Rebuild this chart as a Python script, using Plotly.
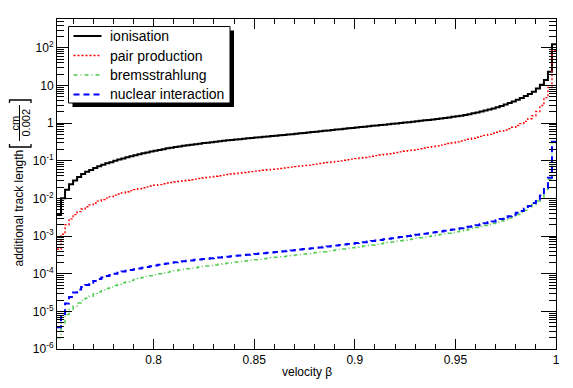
import numpy as np
import plotly.graph_objects as go

# histogram binning: velocity beta, bins of 0.002 starting at 0.752
bin_start = 0.752
bin_width = 0.002

ionisation = [
    0.00363, 0.0102, 0.0170, 0.0240, 0.0302, 0.0372, 0.0447, 0.0513, 0.0575, 0.0646,
    0.0724, 0.0794, 0.0861, 0.0923, 0.100, 0.108, 0.116, 0.125, 0.132, 0.141,
    0.149, 0.159, 0.168, 0.177, 0.186, 0.195, 0.205, 0.215, 0.224, 0.233,
    0.242, 0.251, 0.260, 0.269, 0.278, 0.287, 0.296, 0.305, 0.314, 0.323,
    0.332, 0.341, 0.351, 0.360, 0.369, 0.378, 0.388, 0.398, 0.407, 0.417,
    0.427, 0.437, 0.447, 0.457, 0.468, 0.479, 0.490, 0.501, 0.513, 0.526,
    0.540, 0.553, 0.568, 0.582, 0.597, 0.612, 0.628, 0.644, 0.661, 0.678,
    0.695, 0.713, 0.731, 0.750, 0.769, 0.789, 0.809, 0.830, 0.851, 0.873,
    0.895, 0.918, 0.942, 0.966, 0.991, 1.016, 1.042, 1.069, 1.096, 1.127,
    1.159, 1.191, 1.225, 1.259, 1.297, 1.337, 1.380, 1.426, 1.476, 1.531,
    1.592, 1.660, 1.738, 1.828, 1.928, 2.042, 2.168, 2.312, 2.477, 2.667,
    2.884, 3.141, 3.443, 3.802, 4.217, 4.699, 5.272, 5.957, 6.839, 8.414,
    10.47, 14.13, 23.44, 125.9,
]

pair_production = [
    0.000447, 0.00112, 0.00200, 0.00288, 0.00372, 0.00447, 0.00525, 0.00603, 0.00676, 0.00759,
    0.00851, 0.00933, 0.0102, 0.0112, 0.0123, 0.0132, 0.0141, 0.0151, 0.0162, 0.0172,
    0.0182, 0.0193, 0.0204, 0.0214, 0.0224, 0.0234, 0.0246, 0.0257, 0.0266, 0.0275,
    0.0285, 0.0295, 0.0306, 0.0316, 0.0327, 0.0339, 0.0351, 0.0363, 0.0376, 0.0389,
    0.0403, 0.0417, 0.0432, 0.0447, 0.0461, 0.0475, 0.0490, 0.0504, 0.0518, 0.0532,
    0.0547, 0.0562, 0.0578, 0.0594, 0.0611, 0.0628, 0.0646, 0.0664, 0.0682, 0.0703,
    0.0724, 0.0746, 0.0769, 0.0794, 0.0820, 0.0847, 0.0875, 0.0904, 0.0933, 0.0966,
    0.100, 0.1035, 0.1072, 0.1109, 0.1148, 0.1189, 0.1230, 0.1276, 0.1324, 0.1374,
    0.1426, 0.1479, 0.1538, 0.1600, 0.1663, 0.1730, 0.1799, 0.1871, 0.1945, 0.2023,
    0.2104, 0.2193, 0.2286, 0.2388, 0.2495, 0.2612, 0.2742, 0.2884, 0.3034, 0.3192,
    0.3365, 0.3548, 0.3750, 0.3981, 0.4227, 0.4487, 0.4764, 0.5058, 0.5395, 0.5754,
    0.6166, 0.6637, 0.7161, 0.7852, 0.8710, 0.9772, 1.122, 1.318, 1.585, 2.042,
    2.951, 4.786, 8.913, 85.1,
]

bremsstrahlung = [
    2.00e-6, 5.01e-6, 8.32e-6, 1.12e-5, 1.38e-5, 1.66e-5, 1.95e-5, 2.24e-5, 2.51e-5, 2.88e-5,
    3.31e-5, 3.72e-5, 4.07e-5, 4.47e-5, 4.90e-5, 5.25e-5, 5.75e-5, 6.17e-5, 6.61e-5, 7.08e-5,
    7.59e-5, 7.94e-5, 8.51e-5, 8.91e-5, 9.55e-5, 1.00e-4, 1.05e-4, 1.10e-4, 1.15e-4, 1.20e-4,
    1.26e-4, 1.30e-4, 1.35e-4, 1.40e-4, 1.45e-4, 1.50e-4, 1.55e-4, 1.60e-4, 1.66e-4, 1.72e-4,
    1.78e-4, 1.84e-4, 1.91e-4, 1.97e-4, 2.04e-4, 2.10e-4, 2.17e-4, 2.23e-4, 2.30e-4, 2.37e-4,
    2.44e-4, 2.51e-4, 2.58e-4, 2.65e-4, 2.73e-4, 2.81e-4, 2.88e-4, 2.96e-4, 3.05e-4, 3.14e-4,
    3.24e-4, 3.33e-4, 3.44e-4, 3.54e-4, 3.65e-4, 3.76e-4, 3.87e-4, 4.00e-4, 4.13e-4, 4.27e-4,
    4.42e-4, 4.57e-4, 4.73e-4, 4.90e-4, 5.07e-4, 5.25e-4, 5.43e-4, 5.62e-4, 5.83e-4, 6.05e-4,
    6.28e-4, 6.52e-4, 6.76e-4, 7.01e-4, 7.28e-4, 7.55e-4, 7.83e-4, 8.13e-4, 8.43e-4, 8.75e-4,
    9.08e-4, 9.42e-4, 9.77e-4, 1.02e-3, 1.06e-3, 1.10e-3, 1.14e-3, 1.19e-3, 1.25e-3, 1.30e-3,
    1.37e-3, 1.44e-3, 1.51e-3, 1.60e-3, 1.69e-3, 1.79e-3, 1.91e-3, 2.03e-3, 2.18e-3, 2.34e-3,
    2.54e-3, 2.75e-3, 3.02e-3, 3.35e-3, 3.76e-3, 4.27e-3, 4.90e-3, 5.75e-3, 6.92e-3, 8.51e-3,
    1.10e-2, 1.74e-2, 3.24e-2, 0.302,
]

nuclear_interaction = [
    3.80e-6, 8.51e-6, 1.62e-5, 2.40e-5, 3.16e-5, 3.80e-5, 4.47e-5, 5.01e-5, 5.75e-5, 6.46e-5,
    7.24e-5, 7.94e-5, 8.71e-5, 9.33e-5, 1.00e-4, 1.07e-4, 1.15e-4, 1.20e-4, 1.26e-4, 1.32e-4,
    1.38e-4, 1.45e-4, 1.51e-4, 1.58e-4, 1.66e-4, 1.74e-4, 1.82e-4, 1.88e-4, 1.95e-4, 2.02e-4,
    2.09e-4, 2.14e-4, 2.21e-4, 2.26e-4, 2.34e-4, 2.40e-4, 2.45e-4, 2.51e-4, 2.57e-4, 2.66e-4,
    2.72e-4, 2.79e-4, 2.85e-4, 2.92e-4, 2.99e-4, 3.05e-4, 3.13e-4, 3.20e-4, 3.27e-4, 3.35e-4,
    3.43e-4, 3.51e-4, 3.59e-4, 3.67e-4, 3.76e-4, 3.85e-4, 3.94e-4, 4.07e-4, 4.17e-4, 4.27e-4,
    4.42e-4, 4.52e-4, 4.62e-4, 4.79e-4, 4.90e-4, 5.01e-4, 5.19e-4, 5.31e-4, 5.50e-4, 5.62e-4,
    5.82e-4, 5.96e-4, 6.17e-4, 6.31e-4, 6.53e-4, 6.76e-4, 6.92e-4, 7.16e-4, 7.41e-4, 7.67e-4,
    7.94e-4, 8.22e-4, 8.51e-4, 8.81e-4, 9.12e-4, 9.44e-4, 9.77e-4, 1.01e-3, 1.05e-3, 1.08e-3,
    1.12e-3, 1.16e-3, 1.20e-3, 1.24e-3, 1.29e-3, 1.33e-3, 1.38e-3, 1.45e-3, 1.50e-3, 1.55e-3,
    1.62e-3, 1.70e-3, 1.78e-3, 1.86e-3, 1.95e-3, 2.07e-3, 2.19e-3, 2.32e-3, 2.45e-3, 2.63e-3,
    2.85e-3, 3.09e-3, 3.39e-3, 3.72e-3, 4.17e-3, 4.68e-3, 5.37e-3, 6.31e-3, 7.59e-3, 9.33e-3,
    1.20e-2, 1.91e-2, 3.55e-2, 0.324,
]

x_ticks = [0.8, 0.85, 0.9, 0.95, 1.0]
x_ticktext = ["0.8", "0.85", "0.9", "0.95", "1"]
y_ticks = [1e-6, 1e-5, 1e-4, 1e-3, 1e-2, 1e-1, 1, 10, 100]
y_ticktext = ["10<sup>-6</sup>", "10<sup>-5</sup>", "10<sup>-4</sup>", "10<sup>-3</sup>",
              "10<sup>-2</sup>", "10<sup>-1</sup>", "1", "10", "10<sup>2</sup>"]

series = [
    ("ionisation", ionisation, "black", "solid", 2),
    ("pair production", pair_production, "rgb(255,0,0)", "2px,2px", 1.4),
    ("bremsstrahlung", bremsstrahlung, "rgb(80,205,80)", "4px,3px,1px,3px", 1.5),
    ("nuclear interaction", nuclear_interaction, "rgb(0,0,255)", "6px,4px", 2),
]

nbins = len(ionisation)
edges = bin_start + bin_width * np.arange(nbins + 1)
x_lo, x_hi = edges[0], edges[-1]

FONT = "Liberation Sans, Arial, Helvetica, sans-serif"
# the page body adds an 8px margin, so the figure is sized to fit the 573x388 window
OFF = 8
W, H = 573 - 2 * OFF, 388 - 2 * OFF
PL, PR, PT, PB = 57, 556, 19, 349          # plot frame in window pixels
ML, MT = PL - OFF, PT - OFF
MR, MB = (OFF + W) - PR, (OFF + H) - PB
PW, PH = PR - PL, PB - PT


def px(x):  # window pixel -> paper x
    return (x - PL) / PW


def py(y):  # window pixel -> paper y
    return (PB - y) / PH


fig = go.Figure()
for name, vals, color, dash, width in series:
    fig.add_trace(go.Scatter(
        x=edges, y=list(vals) + [vals[-1]],
        mode="lines", line=dict(shape="hv", color=color, dash=dash, width=width),
        name=name, showlegend=False, hoverinfo="skip",
    ))

shapes = []
annotations = []

# legend box (ROOT style, with shadow)
lx0, ly0, lx1, ly1 = 68.5, 26.5, 230, 103
shapes.append(dict(type="rect", xref="paper", yref="paper",
                   x0=px(lx0 + 4), x1=px(lx1 + 4), y0=py(ly0 + 4), y1=py(ly1 + 4),
                   fillcolor="black", line=dict(width=0), layer="above"))
shapes.append(dict(type="rect", xref="paper", yref="paper",
                   x0=px(lx0), x1=px(lx1), y0=py(ly0), y1=py(ly1),
                   fillcolor="white", line=dict(color="black", width=1), layer="above"))
rows = [36, 55.5, 75, 94.5]
for (name, vals, color, dash, width), ry in zip(series, rows):
    shapes.append(dict(type="line", xref="paper", yref="paper",
                       x0=px(73.5), x1=px(101.5), y0=py(ry), y1=py(ry),
                       line=dict(color=color, dash=dash, width=width), layer="above"))
    annotations.append(dict(text=name, xref="paper", yref="paper", x=px(108), y=py(ry),
                            xanchor="left", yanchor="middle", showarrow=False,
                            font=dict(family=FONT, size=14, color="black")))

# x axis title
annotations.append(dict(text="velocity β", xref="paper", yref="paper", x=0.5, y=py(372),
                        xanchor="center", yanchor="middle", showarrow=False,
                        font=dict(family=FONT, size=12, color="black")))
# y axis title with bracketed fraction
annotations.append(dict(text="additional track length", xref="paper", yref="paper",
                        x=px(18.5), y=py(208), textangle=-90, xanchor="center", yanchor="middle",
                        showarrow=False, font=dict(family=FONT, size=12, color="black")))
annotations.append(dict(text="cm", xref="paper", yref="paper", x=px(14.5), y=py(123),
                        textangle=-90, xanchor="center", yanchor="middle", showarrow=False,
                        font=dict(family=FONT, size=11, color="black")))
annotations.append(dict(text="0.002", xref="paper", yref="paper", x=px(25.5), y=py(123),
                        textangle=-90, xanchor="center", yanchor="middle", showarrow=False,
                        font=dict(family=FONT, size=11, color="black")))
shapes.append(dict(type="line", xref="paper", yref="paper", x0=px(19.5), x1=px(19.5),
                   y0=py(141), y1=py(105), line=dict(color="black", width=1)))
# brackets (rotated)
bl, br = 9.5, 31
shapes.append(dict(type="path", xref="paper", yref="paper",
                   path=f"M {px(bl)},{py(144)} L {px(bl)},{py(147)} L {px(br)},{py(147)} L {px(br)},{py(144)}",
                   line=dict(color="black", width=1.3)))
shapes.append(dict(type="path", xref="paper", yref="paper",
                   path=f"M {px(bl)},{py(103)} L {px(bl)},{py(100)} L {px(br)},{py(100)} L {px(br)},{py(103)}",
                   line=dict(color="black", width=1.3)))

x_minor = [round(0.76 + 0.01 * k, 2) for k in range(25)]
y_minor = [m * 10.0 ** e for e in range(-6, 3) for m in range(2, 10)]

fig.update_layout(
    width=W, height=H,
    margin=dict(l=ML, r=MR, t=MT, b=MB, pad=0, autoexpand=False),
    paper_bgcolor="white", plot_bgcolor="white",
    font=dict(family=FONT, size=12, color="black"),
    showlegend=False,
    shapes=shapes, annotations=annotations,
    xaxis=dict(
        range=[x_lo, x_hi], showgrid=False, zeroline=False, automargin=False,
        showline=True, linecolor="black", linewidth=1, mirror="ticks",
        ticks="inside", ticklen=10, tickwidth=1, tickcolor="black",
        tickmode="array", tickvals=x_ticks, ticktext=x_ticktext,
        tickfont=dict(family=FONT, size=12),
        minor=dict(ticks="inside", ticklen=5, tickwidth=1, tickcolor="black",
                   tickmode="array", tickvals=x_minor, showgrid=False),
    ),
    yaxis=dict(
        type="log", range=[-6, 2.77], showgrid=False, zeroline=False, automargin=False,
        showline=True, linecolor="black", linewidth=1, mirror="ticks",
        ticks="inside", ticklen=15, tickwidth=1, tickcolor="black",
        tickmode="array", tickvals=y_ticks, ticktext=y_ticktext,
        tickfont=dict(family=FONT, size=12),
        minor=dict(ticks="inside", ticklen=7, tickwidth=1, tickcolor="black",
                   tickmode="array", tickvals=y_minor, showgrid=False),
    ),
)

fig.write_html("out.html")
